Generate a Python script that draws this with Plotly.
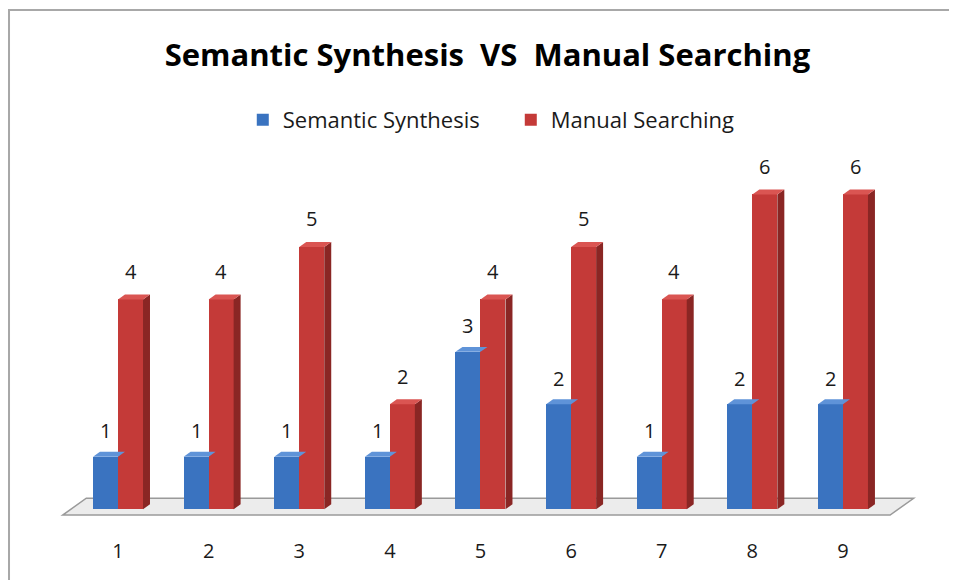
import plotly.graph_objects as go

# ── DATA ───────────────────────────────────────────────
categories = [1, 2, 3, 4, 5, 6, 7, 8, 9]
semantic_synthesis = [1, 1, 1, 1, 3, 2, 1, 2, 2]
manual_searching = [4, 4, 5, 2, 4, 5, 4, 6, 6]

BLUE = '#3a73c0'
BLUE_TOP = '#5f93d8'
RED = '#c43a38'
RED_TOP = '#da5552'
RED_SIDE = '#8a2624'
FONT = '"Open Sans", "Noto Sans", sans-serif'

W = 0.276      # bar width (x units)
DX = 0.077     # 3D depth offset in x
DY = 0.095     # 3D depth offset in y

fig = go.Figure()

fig.add_trace(go.Bar(
    name='Semantic Synthesis', x=[c - W / 2 for c in categories], y=semantic_synthesis,
    width=W, marker=dict(color=BLUE, line=dict(width=0)),
))
fig.add_trace(go.Bar(
    name='Manual Searching', x=[c + W / 2 for c in categories], y=manual_searching,
    width=W, marker=dict(color=RED, line=dict(width=0)),
))

shapes = []
# floor slab
fx0, fx1, fy0, fy1, fdx = 0.39, 9.52, -0.11, 0.21, 0.26
shapes.append(dict(
    type='path', xref='x', yref='y', layer='below',
    path=f'M{fx0},{fy0} L{fx1},{fy0} L{fx1 + fdx},{fy1} L{fx0 + fdx},{fy1} Z',
    fillcolor='#ececec', line=dict(color='#9a9a9a', width=1.5),
))

# 3D top / side faces, derived from the data values
for c, v in zip(categories, semantic_synthesis):
    x0, x1 = c - W, c
    shapes.append(dict(
        type='path', xref='x', yref='y', layer='above',
        path=f'M{x0},{v} L{x1},{v} L{x1 + DX},{v + DY} L{x0 + DX},{v + DY} Z',
        fillcolor=BLUE_TOP, line=dict(width=0),
    ))
for c, v in zip(categories, manual_searching):
    x0, x1 = c, c + W
    shapes.append(dict(
        type='path', xref='x', yref='y', layer='above',
        path=f'M{x1},0 L{x1},{v} L{x1 + DX},{v + DY} L{x1 + DX},{DY} Z',
        fillcolor=RED_SIDE, line=dict(width=0),
    ))
    shapes.append(dict(
        type='path', xref='x', yref='y', layer='above',
        path=f'M{x0},{v} L{x1},{v} L{x1 + DX},{v + DY} L{x0 + DX},{v + DY} Z',
        fillcolor=RED_TOP, line=dict(width=0),
    ))

# outer chart border
shapes.append(dict(
    type='rect', xref='paper', yref='paper', x0=-0.0595, x1=1.2, y0=-0.5, y1=1.4227,
    line=dict(color='#a8a8a8', width=2), fillcolor='rgba(0,0,0,0)',
))

annotations = []
for c, v in zip(categories, semantic_synthesis):
    annotations.append(dict(x=c - W / 2, y=v, text=str(v), showarrow=False,
                            yshift=26, font=dict(size=20, color='#1a1a1a', family=FONT)))
for c, v in zip(categories, manual_searching):
    annotations.append(dict(x=c + W / 2, y=v, text=str(v), showarrow=False,
                            yshift=28, font=dict(size=20, color='#1a1a1a', family=FONT)))

fig.update_layout(
    width=957, height=580,
    paper_bgcolor='white', plot_bgcolor='white',
    # page body adds an 8px offset, so margins are trimmed on the top/left
    margin=dict(l=52, r=48, t=155, b=63),
    barmode='overlay', bargap=0,
    font=dict(family=FONT, color='#1a1a1a'),
    title=dict(text='<b>Semantic Synthesis  VS  Manual Searching</b>',
               x=0.501, xanchor='center', y=0.919, yanchor='middle',
               font=dict(size=31, family=FONT, color='#000000')),
    legend=dict(orientation='h', x=0.526, xanchor='center', y=1.119, yanchor='middle',
                font=dict(size=22, family=FONT, color='#1a1a1a'),
                itemwidth=30, entrywidth=223, traceorder='normal'),
    xaxis=dict(range=[0.36, 9.817], tickmode='array', tickvals=categories,
               ticktext=[str(c) for c in categories], showgrid=False, zeroline=False,
               showline=False, ticks='', tickfont=dict(size=20, family=FONT),
               ticklabelstandoff=12),
    yaxis=dict(range=[-0.3, 6.6], visible=False),
    shapes=shapes, annotations=annotations,
)

fig.write_html('out.html')
